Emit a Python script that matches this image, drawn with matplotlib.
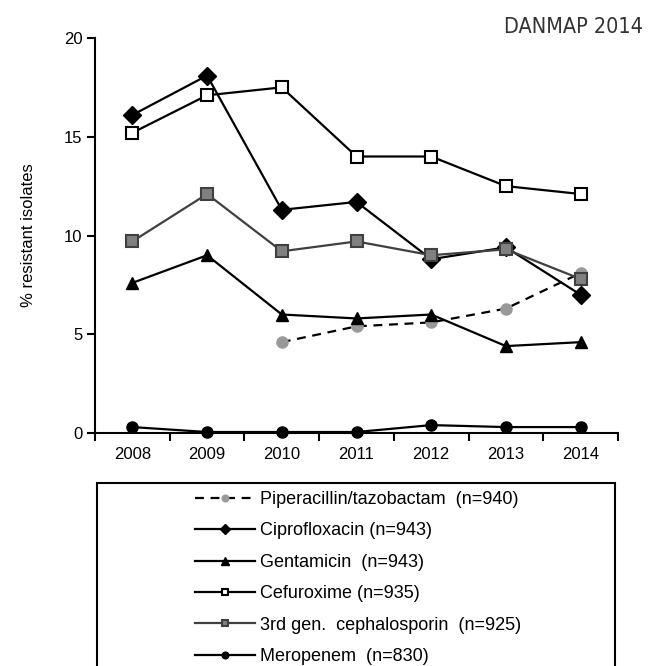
import matplotlib
matplotlib.use("Agg")
import matplotlib.pyplot as plt
from matplotlib.patches import Rectangle

plt.rcParams['font.family'] = ['Liberation Sans', 'DejaVu Sans']

# Data
years = ["2008", "2009", "2010", "2011", "2012", "2013", "2014"]
pip_taz = [None, None, 4.6, 5.4, 5.6, 6.3, 8.1]
cipro = [16.1, 18.1, 11.3, 11.7, 8.8, 9.4, 7.0]
genta = [7.6, 9.0, 6.0, 5.8, 6.0, 4.4, 4.6]
cefur = [15.2, 17.1, 17.5, 14.0, 14.0, 12.5, 12.1]
ceph3 = [9.7, 12.1, 9.2, 9.7, 9.0, 9.3, 7.8]
mero = [0.3, 0.05, 0.05, 0.05, 0.4, 0.3, 0.3]

labels = [
    "Piperacillin/tazobactam  (n=940)",
    "Ciprofloxacin (n=943)",
    "Gentamicin  (n=943)",
    "Cefuroxime (n=935)",
    "3rd gen.  cephalosporin  (n=925)",
    "Meropenem  (n=830)",
]

fig = plt.figure(figsize=(6.6, 6.66), dpi=100)
ax = fig.add_axes([95 / 660, 1 - 433 / 666, (618 - 95) / 660, (433 - 38) / 666])

x = list(range(len(years)))
pip_x = [i for i, v in zip(x, pip_taz) if v is not None]
pip_y = [v for v in pip_taz if v is not None]

h_pip, = ax.plot(pip_x, pip_y, ls=(0, (4, 3)), color='black', lw=1.6,
                 marker='o', ms=8, mfc='#999999', mec='#999999', clip_on=False)
h_cip, = ax.plot(x, cipro, color='black', lw=1.6, marker='D', ms=9,
                 mfc='black', mec='black', clip_on=False)
h_gen, = ax.plot(x, genta, color='black', lw=1.6, marker='^', ms=9,
                 mfc='black', mec='black', clip_on=False)
h_cef, = ax.plot(x, cefur, color='black', lw=1.6, marker='s', ms=8,
                 mfc='white', mec='black', mew=1.5, clip_on=False)
h_c3, = ax.plot(x, ceph3, color='#404040', lw=1.6, marker='s', ms=8,
                mfc='#808080', mec='#404040', mew=1.5, clip_on=False)
h_mer, = ax.plot(x, mero, color='black', lw=1.6, marker='o', ms=8,
                 mfc='black', mec='black', clip_on=False, zorder=5)

ax.set_xlim(-0.5, len(years) - 0.5)
ax.set_ylim(0, 20)
ax.set_yticks([0, 5, 10, 15, 20])
ax.set_xticks([i - 0.5 for i in range(len(years) + 1)])
ax.set_xticklabels([])
ax.set_xticks(x, minor=True)
ax.set_xticklabels(years, minor=True)
ax.tick_params(axis='x', which='minor', length=0, pad=10, labelsize=12)
ax.tick_params(axis='x', which='major', length=6, width=1.5, direction='out')
ax.tick_params(axis='y', length=6, width=1.5, direction='out', labelsize=12, pad=3)
for s in ['top', 'right']:
    ax.spines[s].set_visible(False)
for s in ['left', 'bottom']:
    ax.spines[s].set_linewidth(1.5)
ax.set_ylabel("% resistant isolates", fontsize=12, labelpad=20)

fig.text(643 / 660, 1 - 27 / 666, "DANMAP 2014", ha='right', va='center',
         fontsize=15.5, color='#333333', family='DejaVu Sans', fontstretch='condensed')

# legend box runs off the bottom of the figure
fig.patches.append(Rectangle((97 / 660, -0.05), (615 - 97) / 660, 0.05 + 1 - 483 / 666,
                             transform=fig.transFigure, fill=False, ec='black', lw=1.5))
fig.legend([h_pip, h_cip, h_gen, h_cef, h_c3, h_mer], labels,
           loc='upper left', bbox_to_anchor=(195 / 660, 1 - 491 / 666),
           frameon=False, fontsize=13, handlelength=3.3, handletextpad=0.28,
           labelspacing=0.8, borderpad=0, borderaxespad=0, markerscale=0.6)

fig.savefig("out.png", dpi=100)
